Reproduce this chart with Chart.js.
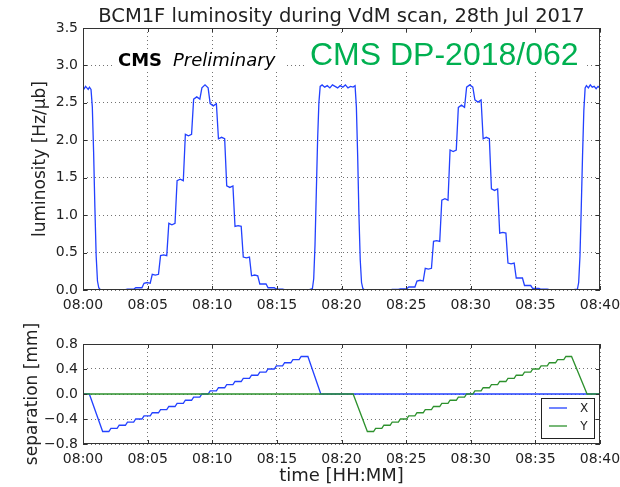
<!DOCTYPE html>
<html>
<head>
<meta charset="utf-8">
<script src="https://cdn.jsdelivr.net/npm/chart.js@4.4.1/dist/chart.umd.min.js"></script>
<style>
  html, body { margin: 0; padding: 0; background: #fff; }
  canvas { position: absolute; left: 0; }
  #lumiChart { top: 0; }
  #sepChart { top: 318px; }
</style>
</head>
<body>
<canvas id="lumiChart" width="620" height="318"></canvas>
<canvas id="sepChart" width="620" height="169"></canvas>
<script>
// time axis is in minutes after 08:00
const tickMinutes = [0, 5, 10, 15, 20, 25, 30, 35, 40];
const tickLabels = ['08:00', '08:05', '08:10', '08:15', '08:20', '08:25', '08:30', '08:35', '08:40'];

// nominal beam separation of the 25 scan points [mm]
const scanSteps = [-0.60, -0.55, -0.50, -0.45, -0.40, -0.35, -0.30, -0.25, -0.20, -0.15, -0.10, -0.05, 0.00,
                   0.05, 0.10, 0.15, 0.20, 0.25, 0.30, 0.35, 0.40, 0.45, 0.50, 0.55, 0.60];

// time when each scan point is reached
const stepTimesX = [1.52, 2.16, 2.80, 3.44, 4.08, 4.72, 5.36, 6.00, 6.64, 7.28, 7.92, 8.56, 9.20,
                    9.84, 10.48, 11.12, 11.76, 12.40, 13.04, 13.68, 14.32, 14.96, 15.60, 16.24, 16.88];
const stepTimesY = [22.00, 22.64, 23.28, 23.92, 24.56, 25.20, 25.84, 26.48, 27.12, 27.76, 28.40, 29.04, 29.68,
                    30.32, 30.96, 31.60, 32.24, 32.88, 33.52, 34.16, 34.80, 35.44, 36.08, 36.72, 37.36];
const moveTime = 0.16;

// leaving head-on, end of last scan point, back at head-on
const edgesX = [0.49, 17.40, 18.40];
const edgesY = [20.90, 37.80, 39.00];

// luminosity on each scan point [Hz/ub], start and middle of the plateau
const lumiStepsX = [0.00, 0.00, 0.005, 0.01, 0.03, 0.09, 0.21, 0.46, 0.89, 1.46, 2.08, 2.55, 2.70,
                    2.49, 2.02, 1.39, 0.85, 0.44, 0.19, 0.08, 0.03, 0.01, 0.005, 0.00, 0.00];
const lumiMidX = [0.00, 0.00, 0.005, 0.01, 0.03, 0.10, 0.20, 0.47, 0.87, 1.48, 2.06, 2.58, 2.74,
                  2.46, 2.04, 1.37, 0.86, 0.43, 0.20, 0.08, 0.03, 0.01, 0.005, 0.00, 0.00];
const lumiStepsY = [0.00, 0.00, 0.003, 0.008, 0.015, 0.04, 0.12, 0.29, 0.65, 1.20, 1.87, 2.44, 2.71,
                    2.54, 2.02, 1.35, 0.76, 0.36, 0.16, 0.06, 0.02, 0.01, 0.004, 0.00, 0.00];
const lumiMidY = [0.00, 0.00, 0.003, 0.008, 0.015, 0.04, 0.13, 0.28, 0.66, 1.22, 1.85, 2.47, 2.74,
                  2.51, 2.04, 1.33, 0.77, 0.35, 0.16, 0.06, 0.02, 0.01, 0.004, 0.00, 0.00];

// head-on periods and the fast moves in and out of the scans
const headOnTime1 = [0.00, 0.10, 0.20, 0.30, 0.40, 0.50, 0.62, 0.72, 0.82, 0.92, 1.02, 1.12, 1.22, 1.35];
const headOnLumi1 = [2.71, 2.69, 2.72, 2.70, 2.68, 2.71, 2.68, 2.45, 1.85, 1.10, 0.45, 0.12, 0.03, 0.00];
const headOnTime2 = [17.40, 17.75, 17.85, 17.95, 18.05, 18.15, 18.25, 18.35, 18.50, 18.70, 18.90, 19.10, 19.30, 19.50,
                     19.70, 19.90, 20.10, 20.30, 20.50, 20.70, 20.90, 21.05, 21.15, 21.25, 21.35, 21.45, 21.55, 21.65, 21.80];
const headOnLumi2 = [0.00, 0.02, 0.15, 0.60, 1.30, 2.00, 2.50, 2.72, 2.74, 2.71, 2.73, 2.70, 2.74, 2.72,
                     2.70, 2.73, 2.71, 2.74, 2.70, 2.72, 2.71, 2.73, 2.45, 1.80, 1.00, 0.40, 0.10, 0.02, 0.00];
const headOnTime3 = [37.80, 38.25, 38.35, 38.45, 38.55, 38.65, 38.75, 38.85, 38.95, 39.10, 39.25, 39.40, 39.55, 39.70, 39.85, 40.00];
const headOnLumi3 = [0.00, 0.01, 0.10, 0.45, 1.10, 1.80, 2.40, 2.70, 2.73, 2.70, 2.74, 2.71, 2.72, 2.69, 2.72, 2.70];

const blue = 'rgb(35,65,255)';
const green = 'rgb(45,145,45)';
const font = 'DejaVu Sans';

Chart.defaults.font.family = font;
Chart.defaults.color = '#222';

function zip(times, values) {
  return times.map((t, i) => ({x: t, y: values[i]}));
}

// flat top on every scan point, ramp while moving to the next one
function scanPoints(times, values, end, mids) {
  let pts = [];
  for (let i = 0; i < times.length; i++) {
    let stop = i < times.length - 1 ? times[i + 1] - moveTime : end;
    pts.push({x: times[i], y: values[i]});
    if (mids) pts.push({x: (times[i] + stop) / 2, y: mids[i]});
    pts.push({x: stop, y: values[i]});
  }
  return pts;
}

let lumiData = [].concat(
  zip(headOnTime1, headOnLumi1),
  scanPoints(stepTimesX, lumiStepsX, edgesX[1], lumiMidX),
  zip(headOnTime2, headOnLumi2),
  scanPoints(stepTimesY, lumiStepsY, edgesY[1], lumiMidY),
  zip(headOnTime3, headOnLumi3)
);

let sepXData = [].concat(
  [{x: 0, y: 0}, {x: edgesX[0], y: 0}],
  scanPoints(stepTimesX, scanSteps, edgesX[1]),
  [{x: edgesX[2], y: 0}, {x: 40, y: 0}]
);
let sepYData = [].concat(
  [{x: 0, y: 0}, {x: edgesY[0], y: 0}],
  scanPoints(stepTimesY, scanSteps, edgesY[1]),
  [{x: edgesY[2], y: 0}, {x: 40, y: 0}]
);

function fmtNum(v) {
  if (Math.abs(v) < 1e-9) return '0.0';
  return v < 0 ? '\u2212' + Math.abs(v).toFixed(1) : v.toFixed(1);
}

function timeAxis(height, withTitle) {
  return {
    type: 'linear', min: 0, max: 40,
    afterBuildTicks: s => { s.ticks = tickMinutes.map(v => ({value: v})); },
    ticks: {
      callback: v => tickLabels[tickMinutes.indexOf(v)],
      font: {size: 14}, padding: 7, maxRotation: 0, autoSkip: false
    },
    grid: {color: 'rgba(0,0,0,0.55)', lineWidth: 1, drawTicks: false},
    border: {display: false, dash: [1, 3]},
    title: {display: withTitle, text: 'time [HH:MM]', font: {size: 18}, padding: {top: 0, bottom: 0}},
    afterFit: s => { s.height = height; s.paddingLeft = 0; s.paddingRight = 0; }
  };
}

function valueAxis(min, max, step, label, titlePad) {
  return {
    min: min, max: max,
    ticks: {stepSize: step, callback: fmtNum, font: {size: 14}, padding: 5},
    grid: {color: 'rgba(0,0,0,0.55)', lineWidth: 1, drawTicks: false},
    border: {display: false, dash: [1, 3]},
    title: {display: true, text: label, font: {size: 17}, padding: {top: titlePad, bottom: 0}},
    afterFit: s => { s.width = 83; s.paddingTop = 0; s.paddingBottom = 0; }
  };
}

// axes frame with inward ticks on all four sides
const framePlugin = {
  id: 'frame',
  afterDatasetsDraw(chart) {
    const {ctx, chartArea: a, scales} = chart;
    ctx.save();
    ctx.strokeStyle = '#333';
    ctx.lineWidth = 1;
    ctx.beginPath();
    scales.x.ticks.forEach(t => {
      let x = Math.round(scales.x.getPixelForValue(t.value)) + 0.5;
      ctx.moveTo(x, a.bottom); ctx.lineTo(x, a.bottom - 4);
      ctx.moveTo(x, a.top); ctx.lineTo(x, a.top + 4);
    });
    scales.y.ticks.forEach(t => {
      let y = Math.round(scales.y.getPixelForValue(t.value)) + 0.5;
      ctx.moveTo(a.left, y); ctx.lineTo(a.left + 4, y);
      ctx.moveTo(a.right, y); ctx.lineTo(a.right - 4, y);
    });
    ctx.stroke();
    ctx.strokeRect(a.left + 0.5, a.top + 0.5, a.width - 1, a.height - 1);
    ctx.restore();
  }
};

const lumiTextPlugin = {
  id: 'lumiText',
  afterDraw(chart) {
    const {ctx, chartArea: a} = chart;
    ctx.save();
    ctx.fillStyle = '#222';
    ctx.textAlign = 'center';
    ctx.textBaseline = 'alphabetic';
    ctx.font = '19.5px "' + font + '"';
    ctx.fillText('BCM1F luminosity during VdM scan, 28th Jul 2017', (a.left + a.right) / 2, 22);

    ctx.fillStyle = '#fff';
    ctx.fillRect(112, 50, 173, 22);
    ctx.fillRect(304, 34, 280, 38);

    ctx.textAlign = 'left';
    ctx.fillStyle = '#000';
    ctx.font = 'bold 18px "' + font + '"';
    ctx.fillText('CMS', 118, 66);
    ctx.font = 'italic 18px "' + font + '"';
    ctx.fillText('Preliminary', 173, 66);

    ctx.fillStyle = '#00b050';
    ctx.font = '32px "Liberation Sans"';
    ctx.fillText('CMS DP-2018/062', 310, 65);
    ctx.restore();
  }
};

// boxed legend in the lower right corner
const sepLegendPlugin = {
  id: 'sepLegend',
  afterDraw(chart) {
    const {ctx, chartArea: a} = chart;
    let w = 53, h = 40;
    let x0 = a.right - 6 - w, y0 = a.bottom - 6 - h;
    ctx.save();
    ctx.fillStyle = '#fff';
    ctx.fillRect(x0, y0, w, h);
    ctx.strokeStyle = '#222';
    ctx.lineWidth = 1;
    ctx.strokeRect(Math.round(x0) + 0.5, Math.round(y0) + 0.5, w, h);
    ctx.font = '12px "' + font + '"';
    ctx.textAlign = 'center';
    ctx.textBaseline = 'middle';
    chart.data.datasets.forEach((ds, i) => {
      let y = y0 + 10 + i * 18;
      ctx.strokeStyle = ds.borderColor;
      ctx.lineWidth = 1.3;
      ctx.beginPath();
      ctx.moveTo(x0 + 8, y); ctx.lineTo(x0 + 26, y);
      ctx.stroke();
      ctx.fillStyle = '#222';
      ctx.fillText(ds.label, x0 + 43, y + 1);
    });
    ctx.restore();
  }
};

const baseOptions = {
  responsive: false,
  animation: false,
  devicePixelRatio: 1,
  plugins: {legend: {display: false}, tooltip: {enabled: false}},
  elements: {point: {radius: 0}, line: {tension: 0, borderWidth: 1.3}}
};

new Chart(document.getElementById('lumiChart'), {
  type: 'line',
  data: {
    datasets: [{label: 'luminosity', data: lumiData, borderColor: blue, fill: false}]
  },
  options: Object.assign({}, baseOptions, {
    layout: {padding: {top: 28, right: 20, left: 0, bottom: 0}},
    scales: {
      x: timeAxis(28, false),
      y: valueAxis(0, 3.5, 0.5, 'luminosity [Hz/\u03bcb]', 30)
    }
  }),
  plugins: [framePlugin, lumiTextPlugin]
});

new Chart(document.getElementById('sepChart'), {
  type: 'line',
  data: {
    datasets: [
      {label: 'X', data: sepXData, borderColor: blue, fill: false, order: 2},
      {label: 'Y', data: sepYData, borderColor: green, fill: false, order: 1}
    ]
  },
  options: Object.assign({}, baseOptions, {
    layout: {padding: {top: 26, right: 20, left: 0, bottom: 0}},
    scales: {
      x: timeAxis(43, true),
      y: valueAxis(-0.8, 0.8, 0.4, 'separation [mm]', 22)
    }
  }),
  plugins: [framePlugin, sepLegendPlugin]
});
</script>
</body>
</html>
